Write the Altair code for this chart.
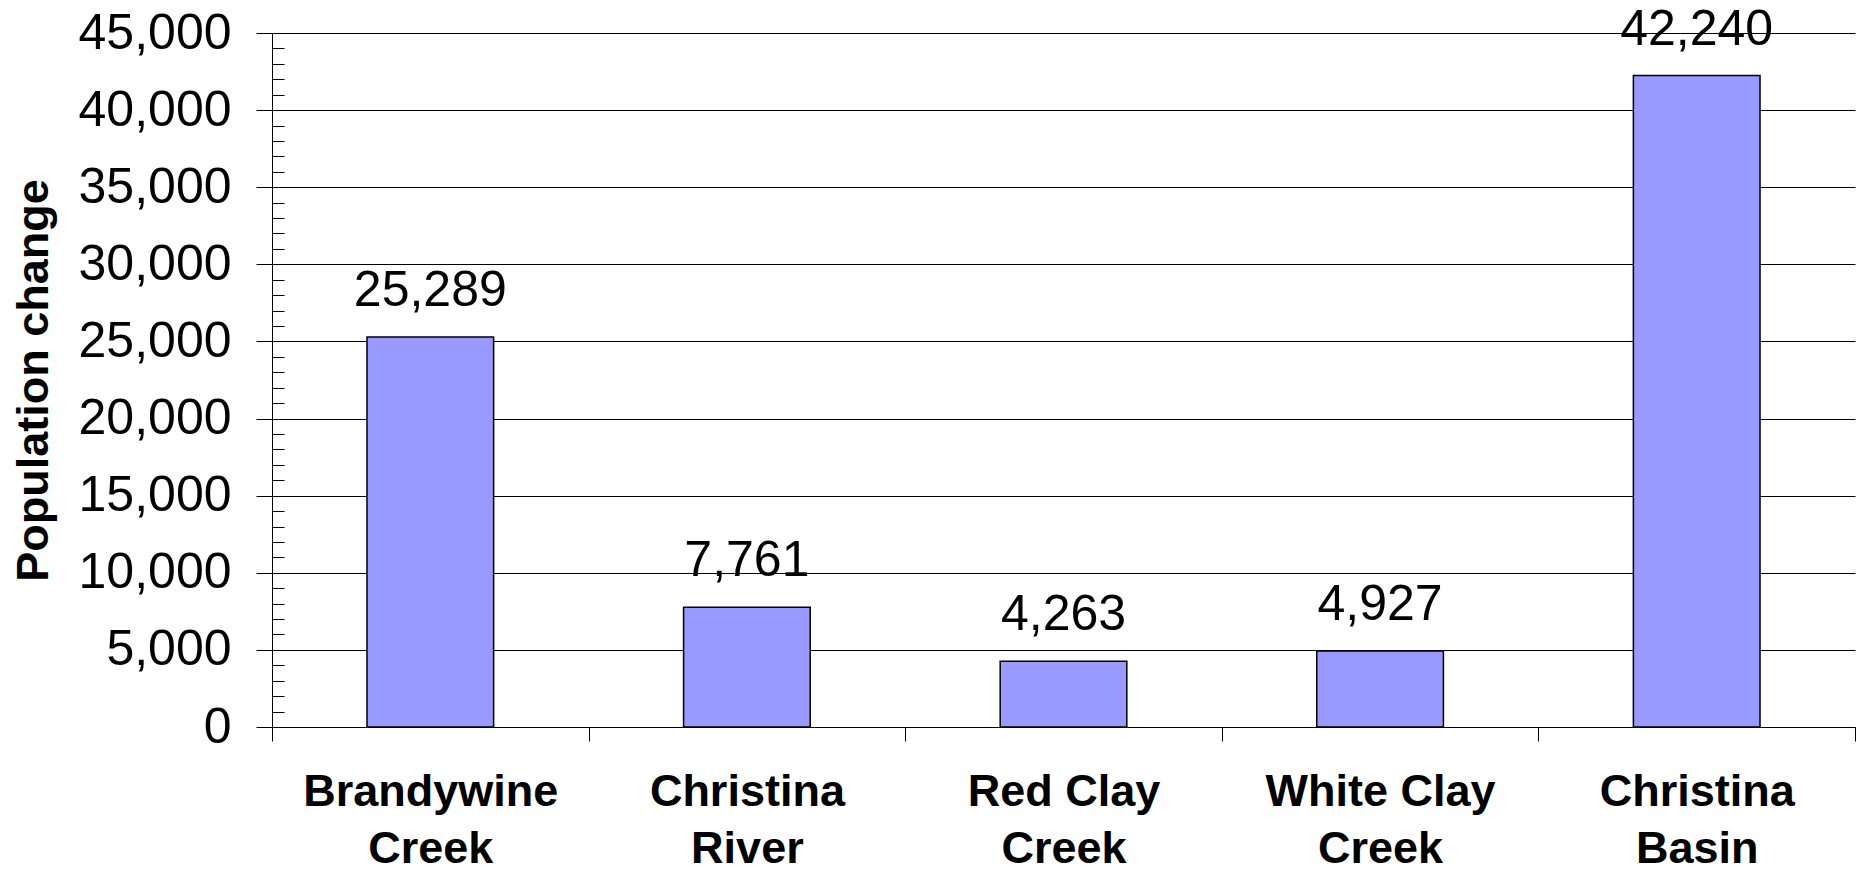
import altair as alt
import pandas as pd

categories = ["Brandywine Creek", "Christina River", "Red Clay Creek", "White Clay Creek", "Christina Basin"]
values = [25289, 7761, 4263, 4927, 42240]
major_ticks = list(range(0, 45001, 5000))
minor_ticks = list(range(0, 45001, 1000))

df = pd.DataFrame({"category": categories, "value": values})

FONT = "Liberation Sans"

x_enc = alt.X(
    "category:N",
    sort=categories,
    scale=alt.Scale(paddingInner=0, paddingOuter=0),
    axis=alt.Axis(
        title=None,
        labelAngle=0,
        labelFont=FONT,
        labelFontWeight="bold",
        labelFontSize=45,
        labelColor="black",
        labelLineHeight=57,
        labelBaseline="top",
        labelPadding=28,
        labelLimit=1000,
        labelExpr="[slice(datum.label, 0, lastindexof(datum.label, ' ')), slice(datum.label, lastindexof(datum.label, ' ') + 1)]",
        tickBand="extent",
        tickSize=14,
        tickColor="black",
        domainColor="black",
        labelOverlap=False,
    ),
)

yscale = alt.Scale(domain=[0, 45000], nice=False)

bars = alt.Chart(df).mark_bar(
    width=alt.RelativeBandSize(0.4),
    color="#9999FF",
    stroke="black",
    strokeWidth=1.5,
).encode(
    x=x_enc,
    y=alt.Y(
        "value:Q",
        scale=yscale,
        axis=alt.Axis(
            orient="left",
            title="Population change",
            titleFont=FONT,
            titleFontWeight="bold",
            titleFontSize=45,
            titleColor="black",
            titlePadding=22,
            values=major_ticks,
            format=",.0f",
            labelFont=FONT,
            labelFontSize=50,
            labelColor="black",
            labelPadding=25,
            labelLimit=1000,
            tickSize=16,
            tickColor="black",
            domainColor="black",
            grid=True,
            gridColor="black",
            gridWidth=1,
            labelOverlap=False,
        ),
    ),
)

labels = alt.Chart(df).mark_text(
    font=FONT,
    fontSize=50,
    color="black",
    baseline="alphabetic",
    dy=-31,
).encode(
    x=alt.X("category:N", sort=categories),
    y=alt.Y(
        "value:Q",
        scale=yscale,
        axis=alt.Axis(
            orient="left",
            title=None,
            values=minor_ticks,
            labels=False,
            domain=False,
            grid=False,
            tickSize=12,
            tickColor="black",
            offset=-12,
        ),
    ),
    text=alt.Text("value:Q", format=","),
)

chart = (
    alt.layer(bars, labels)
    .resolve_scale(y="independent")
    .resolve_axis(y="independent")
    .properties(
        width=1583,
        height=694,
        autosize=alt.AutoSizeParams(type="none"),
        padding={"left": 264, "top": 25, "right": 1, "bottom": 138},
        background="white",
    )
    .configure_view(strokeWidth=0)
)

chart.save("out.html", embed_options={"renderer": "svg", "actions": False})
